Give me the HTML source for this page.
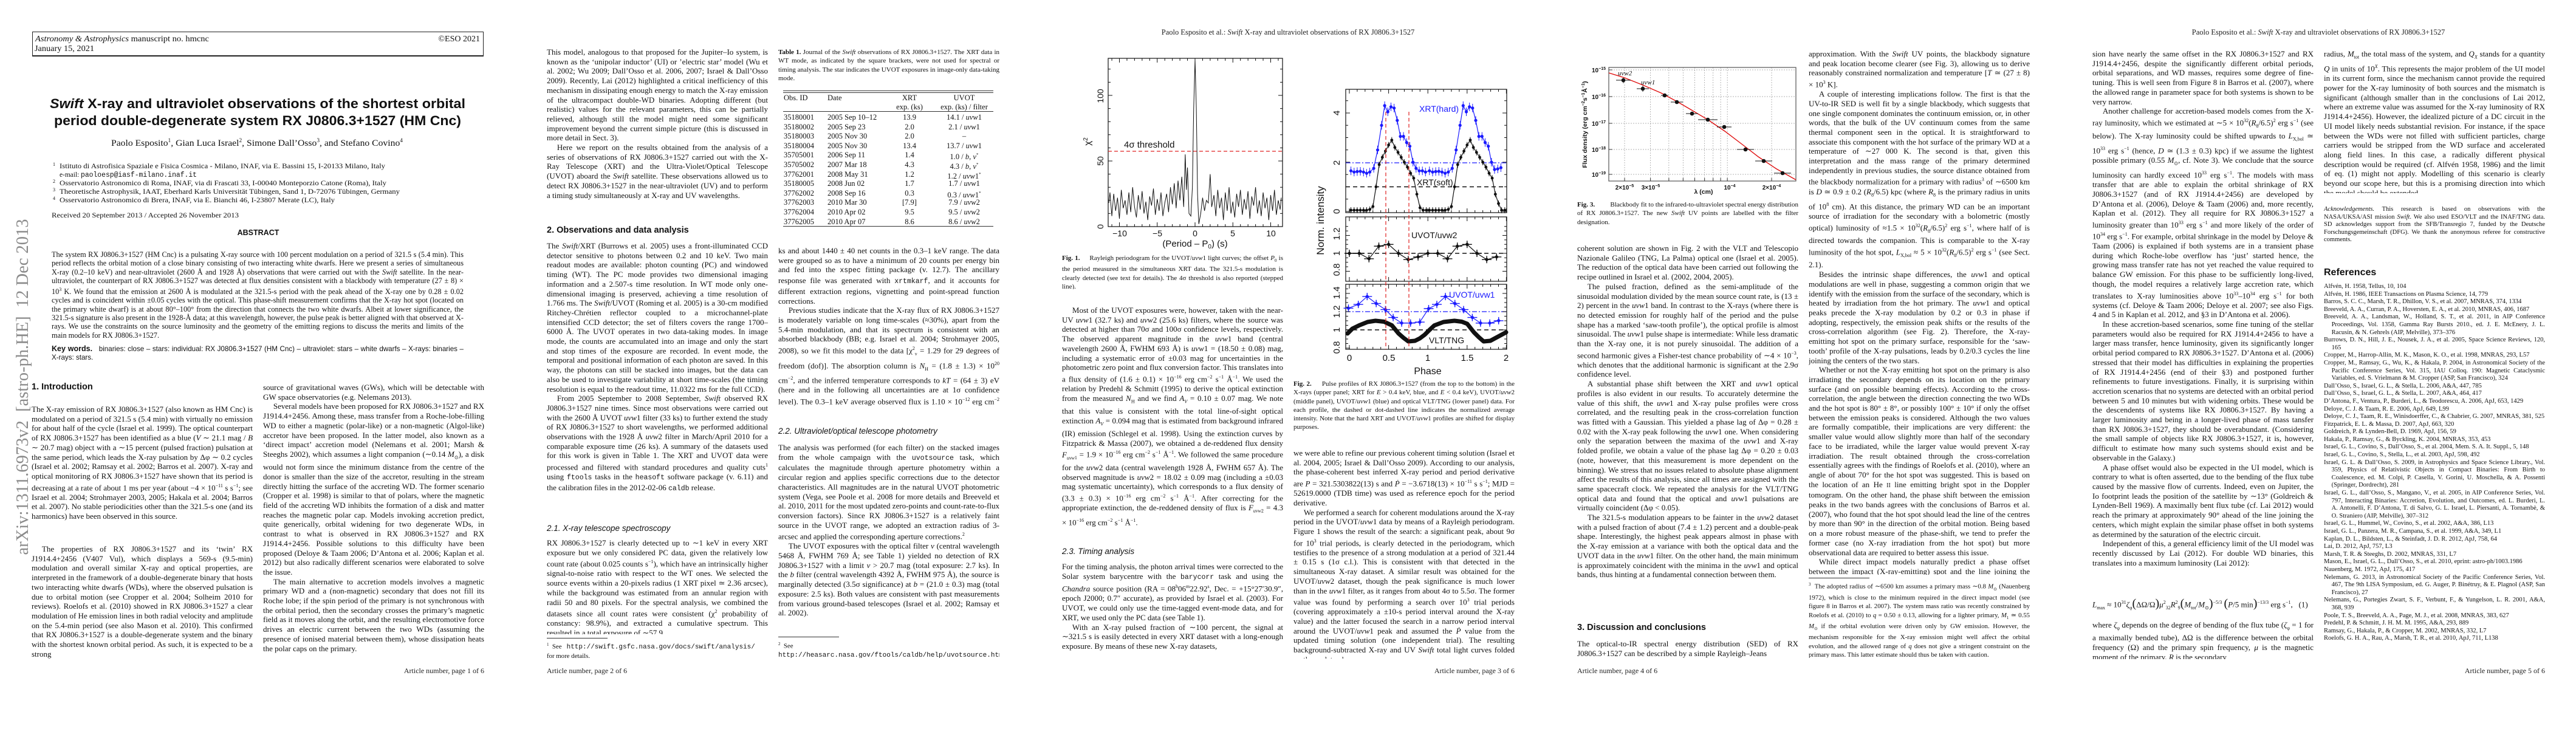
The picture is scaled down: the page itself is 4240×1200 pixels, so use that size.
<!DOCTYPE html>
<html><head><meta charset="utf-8">
<style>
html,body{margin:0;padding:0;background:#fff;}
body{width:4240px;height:1200px;position:relative;overflow:hidden;}
.pg{position:absolute;top:0;width:848px;height:1200px;overflow:hidden;}
.t{position:absolute;font-family:"Liberation Serif",serif;font-size:13px;line-height:15.7px;text-align:justify;color:#111;overflow:hidden;width:364px;}
.t p{margin:0;text-indent:1.3em;}
.t p.ni{text-indent:0;}
.L{left:52px;}.R{left:433px;}
.h{position:absolute;font-family:"Liberation Sans",sans-serif;font-weight:bold;font-size:14.5px;color:#111;white-space:nowrap;}
.sh{position:absolute;font-family:"Liberation Sans",sans-serif;font-style:italic;font-size:13.5px;color:#111;white-space:nowrap;}
.cap{position:absolute;font-family:"Liberation Serif",serif;font-size:11px;line-height:14.3px;text-align:justify;color:#111;overflow:hidden;width:364px;}
.foot{position:absolute;top:1097px;font-family:"Liberation Serif",serif;font-size:12px;color:#222;width:364px;}
.hdr{position:absolute;top:46px;left:0;width:848px;text-align:center;font-family:"Liberation Serif",serif;font-size:12.5px;color:#222;}
.fn{position:absolute;font-family:"Liberation Serif",serif;font-size:10.8px;line-height:14.25px;text-align:justify;color:#111;overflow:hidden;width:364px;}
.rule{position:absolute;height:0;border-top:1px solid #333;}
svg{position:absolute;left:0;top:0;}
.mono{font-family:"Liberation Mono",monospace;font-size:11.5px;}
i{font-style:italic;}
table{border-collapse:collapse;}
</style></head><body>

<!-- ================= PAGE 1 ================= -->
<div class="pg" style="left:0">
<div style="position:absolute;left:53px;top:52px;width:741px;height:38px;border:1px solid #222;border-bottom:2px solid #222;"></div>
<svg width="848" height="1200">
<g font-family="Liberation Serif, serif" fill="#111">
<text x="58" y="68" font-size="14" textLength="286" lengthAdjust="spacingAndGlyphs"><tspan font-style="italic">Astronomy &amp; Astrophysics</tspan> manuscript no. hmcnc</text>
<text x="57" y="84" font-size="14" textLength="98" lengthAdjust="spacingAndGlyphs">January 15, 2021</text>
<text x="790" y="68" font-size="14" text-anchor="end">©ESO 2021</text>
</g>
<g font-family="Liberation Sans, sans-serif" font-weight="bold" fill="#111" font-size="22">
<text x="82" y="178" textLength="684" lengthAdjust="spacingAndGlyphs"><tspan font-style="italic">Swift</tspan> X-ray and ultraviolet observations of the shortest orbital</text>
<text x="89" y="206" textLength="670" lengthAdjust="spacingAndGlyphs">period double-degenerate system RX J0806.3+1527 (HM Cnc)</text>
</g>
<g font-family="Liberation Serif, serif" fill="#111">
<text x="183" y="240" font-size="15" textLength="480" lengthAdjust="spacingAndGlyphs">Paolo Esposito<tspan font-size="9" dy="-6">1</tspan><tspan dy="6">, Gian Luca Israel</tspan><tspan font-size="9" dy="-6">2</tspan><tspan dy="6">, Simone Dall’Osso</tspan><tspan font-size="9" dy="-6">3</tspan><tspan dy="6">, and Stefano Covino</tspan><tspan font-size="9" dy="-6">4</tspan></text>
<g font-size="11.5">
<text x="87" y="273" font-size="8">1</text>
<text x="98" y="277" textLength="536" lengthAdjust="spacingAndGlyphs">Istituto di Astrofisica Spaziale e Fisica Cosmica - Milano, INAF, via E. Bassini 15, I-20133 Milano, Italy</text>
<text x="98" y="291" textLength="226" lengthAdjust="spacingAndGlyphs">e-mail: <tspan font-family="Liberation Mono, monospace">paoloesp@iasf-milano.inaf.it</tspan></text>
<text x="87" y="301" font-size="8">2</text>
<text x="98" y="305" textLength="538" lengthAdjust="spacingAndGlyphs">Osservatorio Astronomico di Roma, INAF, via di Frascati 33, I-00040 Monteporzio Catone (Roma), Italy</text>
<text x="87" y="315" font-size="8">3</text>
<text x="98" y="319" textLength="560" lengthAdjust="spacingAndGlyphs">Theoretische Astrophysik, IAAT, Eberhard Karls Universität Tübingen, Sand 1, D-72076 Tübingen, Germany</text>
<text x="87" y="329" font-size="8">4</text>
<text x="98" y="333" textLength="453" lengthAdjust="spacingAndGlyphs">Osservatorio Astronomico di Brera, INAF, via E. Bianchi 46, I-23807 Merate (LC), Italy</text>
<text x="85" y="358" textLength="308" lengthAdjust="spacingAndGlyphs">Received 20 September 2013 / Accepted 26 November 2013</text>
</g>
</g>
<text x="425" y="387" font-family="Liberation Sans, sans-serif" font-weight="bold" font-size="12.5" text-anchor="middle" fill="#111">ABSTRACT</text>
</svg>
<div style="position:absolute;left:-282px;top:620px;width:640px;height:34px;transform:rotate(-90deg);font-family:'Liberation Serif',serif;font-size:28.5px;line-height:34px;color:#8a8a8a;white-space:nowrap;text-align:center;">arXiv:1311.6973v2&nbsp; [astro-ph.HE]&nbsp; 12 Dec 2013</div>
<div class="t" style="left:85px;top:412px;width:678px;height:146px;font-size:12.3px;line-height:14.4px;">The system RX J0806.3+1527 (HM Cnc) is a pulsating X-ray source with 100 percent modulation on a period of 321.5 s (5.4 min). This period reflects the orbital motion of a close binary consisting of two interacting white dwarfs. Here we present a series of simultaneous X-ray (0.2–10 keV) and near-ultraviolet (2600 Å and 1928 Å) observations that were carried out with the <i>Swift</i> satellite. In the near-ultraviolet, the counterpart of RX J0806.3+1527 was detected at flux densities consistent with a blackbody with temperature (27 ± 8) × 10<sup style="font-size:8px">3</sup> K. We found that the emission at 2600 Å is modulated at the 321.5-s period with the peak ahead of the X-ray one by 0.28 ± 0.02 cycles and is coincident within ±0.05 cycles with the optical. This phase-shift measurement confirms that the X-ray hot spot (located on the primary white dwarf) is at about 80°–100° from the direction that connects the two white dwarfs. Albeit at lower significance, the 321.5-s signature is also present in the 1928-Å data; at this wavelength, however, the pulse peak is better aligned with that observed at X-rays. We use the constraints on the source luminosity and the geometry of the emitting regions to discuss the merits and limits of the main models for RX J0806.3+1527.</div>
<div class="t" style="left:85px;top:567px;width:678px;height:30px;font-family:'Liberation Sans',sans-serif;font-size:11.6px;line-height:14px;"><b style="font-size:12.5px">Key words.</b>&nbsp;&nbsp; binaries: close – stars: individual: RX J0806.3+1527 (HM Cnc) – ultraviolet: stars – white dwarfs – X-rays: binaries – X-rays: stars.</div>
<div class="h" style="left:52px;top:629px;">1. Introduction</div>
<div class="t L" style="top:666px;height:220px;"><p class="ni">The X-ray emission of RX J0806.3+1527 (also known as HM Cnc) is modulated on a period of 321.5 s (5.4 min) with virtually no emission for about half of the cycle (Israel et al. 1999). The optical counterpart of RX J0806.3+1527 has been identified as a blue (<i>V</i> ∼ 21.1 mag / <i>B</i> ∼ 20.7 mag) object with a ∼15 percent (pulsed fraction) pulsation at the same period, which leads the X-ray pulsation by Δφ ∼ 0.2 cycles (Israel et al. 2002; Ramsay et al. 2002; Barros et al. 2007). X-ray and optical monitoring of RX J0806.3+1527 have shown that its period is decreasing at a rate of about 1 ms per year (about −4 × 10<sup style="font-size:8px">−11</sup> s s<sup style="font-size:8px">−1</sup>; see Israel et al. 2004; Strohmayer 2003, 2005; Hakala et al. 2004; Barros et al. 2007). No stable periodicities other than the 321.5-s one (and its harmonics) have been observed in this source.</p></div>
<div class="t L" style="top:896px;height:189px;"><p>The properties of RX J0806.3+1527 and its ‘twin’ RX J1914.4+2456 (V407 Vul), which displays a 569-s (9.5-min) modulation and overall similar X-ray and optical properties, are interpreted in the framework of a double-degenerate binary that hosts two interacting white dwarfs (WDs), where the observed pulsation is due to orbital motion (see Cropper et al. 2004; Solheim 2010 for reviews). Roelofs et al. (2010) showed in RX J0806.3+1527 a clear modulation of He emission lines in both radial velocity and amplitude on the 5.4-min period (see also Mason et al. 2010). This confirmed that RX J0806.3+1527 is a double-degenerate system and the binary with the shortest known orbital period. As such, it is expected to be a strong</p></div>
<div class="t R" style="top:630px;height:456px;"><p class="ni">source of gravitational waves (GWs), which will be detectable with GW space observatories (e.g. Nelemans 2013).</p><p>Several models have been proposed for RX J0806.3+1527 and RX J1914.4+2456. Among these, mass transfer from a Roche-lobe-filling WD to either a magnetic (polar-like) or a non-magnetic (Algol-like) accretor have been proposed. In the latter model, also known as a ‘direct impact’ accretion model (Nelemans et al. 2001; Marsh &amp; Steeghs 2002), which assumes a light companion (∼0.14 <i>M</i><sub style="font-size:8px">⊙</sub>), a disk would not form since the minimum distance from the centre of the donor is smaller than the size of the accretor, resulting in the stream directly hitting the surface of the accreting WD. The former scenario (Cropper et al. 1998) is similar to that of polars, where the magnetic field of the accreting WD inhibits the formation of a disk and matter reaches the magnetic polar cap. Models invoking accretion predict, quite generically, orbital widening for two degenerate WDs, in contrast to what is observed in RX J0806.3+1527 and RX J1914.4+2456. Possible solutions to this difficulty have been proposed (Deloye &amp; Taam 2006; D’Antona et al. 2006; Kaplan et al. 2012) but also radically different scenarios were elaborated to solve the issue.</p><p>The main alternative to accretion models involves a magnetic primary WD and a (non-magnetic) secondary that does not fill its Roche lobe; if the spin period of the primary is not synchronous with the orbital period, then the secondary crosses the primary’s magnetic field as it moves along the orbit, and the resulting electromotive force drives an electric current between the two WDs (assuming the presence of ionised material between them), whose dissipation heats the polar caps on the primary.</p></div>
<div class="foot" style="left:433px;text-align:right;">Article number, page 1 of 6</div>
</div>

<!-- ================= PAGE 2 ================= -->
<div class="pg" style="left:848px">
<div class="t L" style="top:78px;height:268px;"><p class="ni">This model, analogous to that proposed for the Jupiter–Io system, is known as the ‘unipolar inductor’ (UI) or ’electric star’ model (Wu et al. 2002; Wu 2009; Dall’Osso et al. 2006, 2007; Israel &amp; Dall’Osso 2009). Recently, Lai (2012) highlighted a critical inefficiency of this mechanism in dissipating enough energy to match the X-ray emission of the ultracompact double-WD binaries. Adopting different (but realistic) values for the relevant parameters, this can be partially relieved, although still the model might need some significant improvement beyond the current simple picture (this is discussed in more detail in Sect. 3).</p><p>Here we report on the results obtained from the analysis of a series of observations of RX J0806.3+1527 carried out with the X-Ray Telescope (XRT) and the Ultra-Violet/Optical Telescope (UVOT) aboard the <i>Swift</i> satellite. These observations allowed us to detect RX J0806.3+1527 in the near-ultraviolet (UV) and to perform a timing study simultaneously at X-ray and UV wavelengths.</p></div>
<div class="h" style="left:52px;top:371px;">2. Observations and data analysis</div>
<div class="t L" style="top:397px;height:440px;"><p class="ni">The <i>Swift</i>/XRT (Burrows et al. 2005) uses a front-illuminated CCD detector sensitive to photons between 0.2 and 10 keV. Two main readout modes are available: photon counting (PC) and windowed timing (WT). The PC mode provides two dimensional imaging information and a 2.507-s time resolution. In WT mode only one-dimensional imaging is preserved, achieving a time resolution of 1.766 ms. The <i>Swift</i>/UVOT (Roming et al. 2005) is a 30-cm modified Ritchey-Chrétien reflector coupled to a microchannel-plate intensified CCD detector; the set of filters covers the range 1700–6000 Å. The UVOT operates in two data-taking modes. In image mode, the counts are accumulated into an image and only the start and stop times of the exposure are recorded. In event mode, the temporal and positional information of each photon are saved. In this way, the photons can still be stacked into images, but the data can also be used to investigate variability at short time-scales (the timing resolution is equal to the readout time, 11.0322 ms for the full CCD).</p><p>From 2005 September to 2008 September, <i>Swift</i> observed RX J0806.3+1527 nine times. Since most observations were carried out with the 2600 Å UVOT <i>uvw</i>1 filter (33 ks) to further extend the study of RX J0806.3+1527 to short wavelengths, we performed additional observations with the 1928 Å <i>uvw</i>2 filter in March/April 2010 for a comparable exposure time (26 ks). A summary of the datasets used for this work is given in Table 1. The XRT and UVOT data were processed and filtered with standard procedures and quality cuts<sup style="font-size:8px">1</sup> using <span class="mono">ftools</span> tasks in the <span class="mono">heasoft</span> software package (v. 6.11) and the calibration files in the 2012-02-06 <span class="mono">caldb</span> release.</p></div>
<div class="sh" style="left:52px;top:862px;">2.1. X-ray telescope spectroscopy</div>
<div class="t L" style="top:886px;height:158px;"><p class="ni">RX J0806.3+1527 is clearly detected up to ∼1 keV in every XRT exposure but we only considered PC data, given the relatively low count rate (about 0.025 counts s<sup style="font-size:8px">−1</sup>), which have an intrinsically higher signal-to-noise ratio with respect to the WT ones. We selected the source events within a 20-pixels radius (1 XRT pixel ≃ 2.36 arcsec), while the background was estimated from an annular region with radii 50 and 80 pixels. For the spectral analysis, we combined the datasets since all count rates were consistent (χ<sup style="font-size:8px">2</sup> probability of constancy: 98.9%), and extracted a cumulative spectrum. This resulted in a total exposure of ∼57.9</p></div>
<div class="rule" style="left:52px;top:1050px;width:100px;"></div>
<div class="fn L" style="top:1054px;height:30px;"><sup style="font-size:7px">1</sup>&nbsp; See &nbsp;&nbsp;<span class="mono" style="font-size:11px">http://swift.gsfc.nasa.gov/docs/swift/analysis/</span><br>for more details.</div>
<div class="cap R" style="top:79px;height:58px;"><b>Table 1.</b> Journal of the <i>Swift</i> observations of RX J0806.3+1527. The XRT data in WT mode, as indicated by the square brackets, were not used for spectral or timing analysis. The star indicates the UVOT exposures in image-only data-taking mode.</div>
<div class="rule" style="left:441px;top:149px;width:346px;"></div>
<div class="rule" style="left:441px;top:152px;width:346px;"></div>
<div class="rule" style="left:441px;top:183px;width:346px;"></div>
<div class="rule" style="left:441px;top:372px;width:346px;"></div>
<div style="position:absolute;left:441px;top:154px;width:346px;font-family:'Liberation Serif',serif;font-size:12.5px;line-height:14.5px;color:#111;">
<div style="position:relative;height:29px;">
<span style="position:absolute;left:1px;top:0">Obs. ID</span><span style="position:absolute;left:73px;top:0">Date</span>
<span style="position:absolute;left:172px;width:72px;text-align:center;top:0">XRT<br>exp. (ks)</span>
<span style="position:absolute;left:250px;width:96px;text-align:center;top:0">UVOT<br>exp. (ks) / filter</span></div>
<div style="height:3px"></div>
<div id="tbl" style="position:relative;"></div>
</div>
<div class="t R" style="top:405px;height:268px;"><p class="ni">ks and about 1440 ± 40 net counts in the 0.3–1 keV range. The data were grouped so as to have a minimum of 20 counts per energy bin and fed into the <span class="mono">xspec</span> fitting package (v. 12.7). The ancillary response file was generated with <span class="mono">xrtmkarf</span>, and it accounts for different extraction regions, vignetting and point-spread function corrections.</p><p>Previous studies indicate that the X-ray flux of RX J0806.3+1527 is moderately variable on long time-scales (≈30%), apart from the 5.4-min modulation, and that its spectrum is consistent with an absorbed blackbody (BB; e.g. Israel et al. 2004; Strohmayer 2005, 2008), so we fit this model to the data [χ<sup style="font-size:8px">2</sup><sub style="font-size:8px">ν</sub> = 1.29 for 29 degrees of freedom (dof)]. The absorption column is <i>N</i><sub style="font-size:8px">H</sub> = (1.8 ± 1.3) × 10<sup style="font-size:8px">20</sup> cm<sup style="font-size:8px">−2</sup>, and the inferred temperature corresponds to <i>kT</i> = (64 ± 3) eV (here and in the following all uncertainties are at 1σ confidence level). The 0.3–1 keV average observed flux is 1.10 × 10<sup style="font-size:8px">−12</sup> erg cm<sup style="font-size:8px">−2</sup> s<sup style="font-size:8px">−1</sup>. The corresponding unabsorbed flux is 1.5 × 10<sup style="font-size:8px">−12</sup> erg cm<sup style="font-size:8px">−2</sup> s<sup style="font-size:8px">−1</sup>.</p></div>
<div class="sh" style="left:433px;top:702px;">2.2. Ultraviolet/optical telescope photometry</div>
<div class="t R" style="top:729px;height:300px;"><p class="ni">The analysis was performed (for each filter) on the stacked images from the whole campaign with the <span class="mono">uvotsource</span> task, which calculates the magnitude through aperture photometry within a circular region and applies specific corrections due to the detector characteristics. All magnitudes are in the natural UVOT photometric system (Vega, see Poole et al. 2008 for more details and Breeveld et al. 2010, 2011 for the most updated zero-points and count-rate-to-flux conversion factors). Since RX J0806.3+1527 is a relatively faint source in the UVOT range, we adopted an extraction radius of 3-arcsec and applied the corresponding aperture corrections.<sup style="font-size:8px">2</sup></p><p>The UVOT exposures with the optical filter <i>v</i> (central wavelength 5468 Å, FWHM 769 Å; see Table 1) yielded no detection of RX J0806.3+1527 with a limit <i>v</i> &gt; 20.7 mag (total exposure: 2.7 ks). In the <i>b</i> filter (central wavelength 4392 Å, FWHM 975 Å), the source is marginally detected (3.5σ significance) at <i>b</i> = (21.0 ± 0.3) mag (total exposure: 2.5 ks). Both values are consistent with past measurements from various ground-based telescopes (Israel et al. 2002; Ramsay et al. 2002).</p></div>
<div class="rule" style="left:433px;top:1048px;width:100px;"></div>
<div class="fn R" style="top:1053px;height:30px;text-align:left;"><sup style="font-size:7px">2</sup>&nbsp; See<br><span class="mono" style="font-size:11px">http://heasarc.nasa.gov/ftools/caldb/help/uvotsource.html</span>.</div>
<div class="foot" style="left:52px;">Article number, page 2 of 6</div>
</div>

<!-- ================= PAGE 3 ================= -->
<div class="pg" style="left:1696px">
<div class="hdr">Paolo Esposito et al.: <i>Swift</i> X-ray and ultraviolet observations of RX J0806.3+1527</div>
<svg id="s3" width="848" height="1200" font-family="Liberation Sans, sans-serif">
<!-- Fig 1 -->
<rect x="128" y="96" width="287" height="277" fill="none" stroke="#111" stroke-width="1.2"/>
<line x1="128" y1="249" x2="415" y2="249" stroke="#e02020" stroke-width="1.2" stroke-dasharray="6,4"/>
<polyline transform="matrix(12.45 0 0 -2.16 271 373)" vector-effect="non-scaling-stroke" fill="none" stroke="#111" stroke-width="1" points="-11.4,18 -11.25,26 -11,8 -10.75,25 -10.5,12 -10.25,22 -10,6 -9.75,28 -9.5,14 -9.25,20 -9,9 -8.75,26 -8.5,11 -8.25,30 -8,15 -7.75,7 -7.5,24 -7.25,13 -7,27 -6.75,10 -6.5,19 -6.25,5 -6,23 -5.75,16 -5.5,29 -5.25,9 -5,21 -4.75,12 -4.5,26 -4.25,8 -4,18 -3.75,25 -3.5,11 -3.25,30 -3,17 -2.75,33 -2.5,14 -2.25,35 -2,20 -1.75,38 -1.5,15 -1.3,55 -1.15,28 -1,45 -0.8,10 -0.55,8 -0.35,30 -0.18,90 0,127 0.17,90 0.33,25 0.5,2 0.75,10 1,22 1.25,12 1.5,20 1.75,18 2,40 2.2,15 2.5,24 2.75,8 3,28 3.25,14 3.5,22 3.75,5 4,26 4.25,12 4.5,30 4.75,10 5,19 5.25,7 5.5,25 5.75,15 6,28 6.25,9 6.5,21 6.75,13 7,27 7.25,6 7.5,23 7.75,16 8,30 8.25,10 8.5,20 8.75,8 9,26 9.25,14 9.5,22 9.75,5 10,24 10.25,12 10.5,28 10.75,9 11,20 11.25,13 11.4,22"/>
<g font-size="14" fill="#111" text-anchor="middle">
<text transform="translate(120,373) rotate(-90)">0</text>
<text transform="translate(120,265) rotate(-90)">50</text>
<text transform="translate(120,158) rotate(-90)">100</text>
<text x="147" y="389">−10</text><text x="209" y="389">−5</text><text x="271" y="389">0</text><text x="333" y="389">5</text><text x="396" y="389">10</text>
<text x="271" y="406" font-size="15">(Period – P<tspan font-size="10" dy="3">0</tspan><tspan dy="-3">) (s)</tspan></text>
<text transform="translate(99,233) rotate(-90)" font-size="15">χ<tspan font-size="10" dy="-5">2</tspan></text>
<text x="154" y="243" font-size="15" text-anchor="start">4σ threshold</text>
</g>
<!-- Fig 2 -->
<defs>
<marker id="mb" markerWidth="8" markerHeight="16" refX="4" refY="8" markerUnits="userSpaceOnUse"><path d="M4,1V15" stroke="#1a1aff" stroke-width="1"/><circle cx="4" cy="8" r="2.6" fill="#1a1aff"/></marker>
<marker id="mk" markerWidth="8" markerHeight="16" refX="4" refY="8" markerUnits="userSpaceOnUse"><path d="M4,3V13" stroke="#111" stroke-width="1"/><circle cx="4" cy="8" r="2.4" fill="#111"/></marker>
<marker id="xk" markerWidth="18" markerHeight="14" refX="9" refY="7" markerUnits="userSpaceOnUse"><path d="M1,7H17M9,1V13" stroke="#111" stroke-width="1.4"/><path d="M9,3.5L12.5,7L9,10.5L5.5,7Z" fill="#111"/></marker>
<marker id="xb" markerWidth="18" markerHeight="14" refX="9" refY="7" markerUnits="userSpaceOnUse"><path d="M1,7H17M9,1V13" stroke="#1a1aff" stroke-width="1.4"/><path d="M9,3.5L12.5,7L9,10.5L5.5,7Z" fill="#1a1aff"/></marker>
</defs>
<rect x="519" y="147" width="265" height="203" fill="none" stroke="#111" stroke-width="1.2"/>
<rect x="519" y="357" width="265" height="106" fill="none" stroke="#111" stroke-width="1.2"/>
<rect x="519" y="468" width="265" height="107" fill="none" stroke="#111" stroke-width="1.2"/>
<line x1="519" y1="268" x2="784" y2="268" stroke="#1a1aff" stroke-width="1.2" stroke-dasharray="8,3,2,3"/>
<line x1="519" y1="307.5" x2="784" y2="307.5" stroke="#111" stroke-width="1.5" stroke-dasharray="7,5"/>
<line x1="519" y1="417" x2="784" y2="417" stroke="#111" stroke-width="1.5" stroke-dasharray="7,5"/>
<line x1="519" y1="543" x2="784" y2="543" stroke="#111" stroke-width="1.5" stroke-dasharray="7,5"/>
<line x1="519" y1="513" x2="784" y2="513" stroke="#1a1aff" stroke-width="1.2" stroke-dasharray="8,3,2,3"/>
<polyline fill="none" stroke="#111" stroke-width="1.2" marker-start="url(#mk)" marker-mid="url(#mk)" marker-end="url(#mk)" points="527.6,346 532.8,346 537.9,346 543.1,346 548.3,346 553.4,346 558.6,344.8 563.8,339.9 568.9,307.5 574.1,271 579.3,258.9 584.4,248.8 589.6,238.7 594.8,230.6 599.9,242.7 605.1,250.8 610.3,258.9 615.4,267 620.6,275.1 625.8,285.2 630.9,293.3 636.1,319.7 641.3,341.9 646.4,346 651.6,346 656.8,346 662,346 667.1,346 672.3,346 677.5,346 682.6,346 687.8,344.8 693,339.9 698.1,307.5 703.3,271 708.5,258.9 713.6,248.8 718.8,238.7 724,230.6 729.1,242.7 734.3,250.8 739.5,258.9 744.6,267 749.8,275.1 755,285.2 760.1,293.3 765.3,319.7 770.5,335 775.6,346 780.8,346"/>
<polyline fill="none" stroke="#1a1aff" stroke-width="1.2" marker-start="url(#mb)" marker-mid="url(#mb)" marker-end="url(#mb)" points="527.6,281.2 532.8,283.2 537.9,282.4 543.1,282 548.3,283.2 553.4,285.2 558.6,283.2 565.1,277.1 571.5,246.8 578,206.3 583.1,173.9 588.3,184 593.5,175.9 598.6,177.9 603.8,198.2 609,224.5 614.1,224.5 619.3,234.6 624.5,240.7 629.7,267 634.8,277.1 640,281.2 645.2,281.2 650.3,283.2 656.8,281.2 662,283.2 667.1,282.4 672.3,282 677.5,283.2 682.6,285.2 687.8,283.2 694.3,277.1 700.7,246.8 707.2,206.3 712.3,173.9 717.5,184 722.7,175.9 727.8,177.9 733,198.2 738.2,224.5 743.3,224.5 748.5,234.6 753.7,240.7 758.9,267 764,279 769.2,278 774.4,276"/>
<polyline fill="none" stroke="#111" stroke-width="1.2" marker-start="url(#xk)" marker-mid="url(#xk)" marker-end="url(#xk)" points="525,417 541.2,417 557.3,425.9 573.5,405.2 589.6,402.3 605.8,417 621.9,427.3 638.1,422.9 654.2,417 670.4,417 686.5,425.9 702.7,405.2 718.8,402.3 735,417 751.1,427.3 767.3,422.9"/>
<polyline fill="none" stroke="#1a1aff" stroke-width="1.2" marker-start="url(#xb)" marker-mid="url(#xb)" marker-end="url(#xb)" points="523.5,507.3 539.7,501.1 554.3,488.1 569.2,499.6 584.3,509.6 597.1,522.6 611.1,531.8 625.7,531.8 640.9,530.2 655.5,508 669,501.1 683.1,488.1 698.7,499.6 713,509.6 727.4,522.6 740.9,531.8 756.1,531.8 770.7,527.9"/>
<polyline fill="none" stroke="#111" stroke-width="7" stroke-linecap="round" stroke-linejoin="round" points="522,549 530,541 541,535.6 555,530 568,528 582,529.5 595,535.6 606,549 614,556 622,562 633,561 641,557 649,551 657,543 665,535.6 680,530 698,528 710,529.5 719,533 730,547 738,555 746,562 757,561 770,554 783,547"/>
<line x1="585" y1="184" x2="585" y2="575" stroke="#e02020" stroke-width="1.2" stroke-dasharray="6,4"/>
<line x1="623" y1="184" x2="623" y2="575" stroke="#e02020" stroke-width="1.2" stroke-dasharray="6,4"/>
<g font-size="15" fill="#111" text-anchor="middle">
<text x="640" y="184" fill="#1a1aff" text-anchor="start" font-size="14">XRT(hard)</text>
<text x="636" y="305" text-anchor="start" font-size="14">XRT(soft)</text>
<text x="627" y="392" text-anchor="start" font-size="14">UVOT/uvw2</text>
<text x="689" y="490" fill="#1a1aff" text-anchor="start" font-size="14">UVOT/uvw1</text>
<text x="656" y="565" text-anchor="start" font-size="14">VLT/TNG</text>
<text transform="translate(509,348) rotate(-90)">0</text>
<text transform="translate(509,268) rotate(-90)">2</text>
<text transform="translate(509,186) rotate(-90)">4</text>
<text transform="translate(509,444) rotate(-90)">0.8</text>
<text transform="translate(509,417) rotate(-90)">1</text>
<text transform="translate(509,385) rotate(-90)">1.2</text>
<text transform="translate(509,572) rotate(-90)">0.8</text>
<text transform="translate(509,543) rotate(-90)">1</text>
<text transform="translate(509,513) rotate(-90)">1.2</text>
<text transform="translate(509,482) rotate(-90)">1.4</text>
<text transform="translate(483,363) rotate(-90)" font-size="17">Norm. intensity</text>
<text x="525" y="594">0</text><text x="590" y="594">0.5</text><text x="654" y="594">1</text><text x="719" y="594">1.5</text><text x="783" y="594">2</text>
<text x="654" y="616" font-size="16">Phase</text>
</g>
</svg>
<div class="cap L" style="top:418px;height:58px;"><b>Fig. 1.</b>&nbsp;&nbsp;&nbsp;&nbsp; Rayleigh periodogram for the UVOT/<i>uvw</i>1 light curves; the offset <i>P</i><sub style="font-size:7px">0</sub> is the period measured in the simultaneous XRT data. The 321.5-s modulation is clearly detected (see text for details). The 4σ threshold is also reported (stepped line).</div>
<div class="t L" style="top:503px;height:378px;"><p>Most of the UVOT exposures were, however, taken with the near-UV <i>uvw</i>1 (32.7 ks) and <i>uvw</i>2 (25.6 ks) filters, where the source was detected at higher than 70σ and 100σ confidence levels, respectively. The observed apparent magnitude in the <i>uvw</i>1 band (central wavelength 2600 Å, FWHM 693 Å) is <i>uvw</i>1 = (18.50 ± 0.08) mag, including a systematic error of ±0.03 mag for uncertainties in the photometric zero point and flux conversion factor. This translates into a flux density of (1.6 ± 0.1) × 10<sup style="font-size:8px">−16</sup> erg cm<sup style="font-size:8px">−2</sup> s<sup style="font-size:8px">−1</sup> Å<sup style="font-size:8px">−1</sup>. We used the relation by Predehl &amp; Schmitt (1995) to derive the optical extinction from the measured <i>N</i><sub style="font-size:8px">H</sub> and we find <i>A<sub style="font-size:8px">V</sub></i> = 0.10 ± 0.07 mag. We note that this value is consistent with the total line-of-sight optical extinction <i>A<sub style="font-size:8px">V</sub></i> = 0.094 mag that is estimated from background infrared (IR) emission (Schlegel et al. 1998). Using the extinction curves by Fitzpatrick &amp; Massa (2007), we obtained a de-reddened flux density <i>F<sub style="font-size:8px">uvw</sub></i><sub style="font-size:8px">1</sub> = 1.9 × 10<sup style="font-size:8px">−16</sup> erg cm<sup style="font-size:8px">−2</sup> s<sup style="font-size:8px">−1</sup> Å<sup style="font-size:8px">−1</sup>. We followed the same procedure for the <i>uvw</i>2 data (central wavelength 1928 Å, FWHM 657 Å). The observed magnitude is <i>uvw</i>2 = 18.02 ± 0.09 mag (including a ±0.03 mag systematic uncertainty), which corresponds to a flux density of (3.3 ± 0.3) × 10<sup style="font-size:8px">−16</sup> erg cm<sup style="font-size:8px">−2</sup> s<sup style="font-size:8px">−1</sup> Å<sup style="font-size:8px">−1</sup>. After correcting for the appropriate extinction, the de-reddened density of flux is <i>F<sub style="font-size:8px">uvw</sub></i><sub style="font-size:8px">2</sub> = 4.3 × 10<sup style="font-size:8px">−16</sup> erg cm<sup style="font-size:8px">−2</sup> s<sup style="font-size:8px">−1</sup> Å<sup style="font-size:8px">−1</sup>.</p></div>
<div class="sh" style="left:52px;top:900px;">2.3. Timing analysis</div>
<div class="t L" style="top:925px;height:158px;"><p class="ni">For the timing analysis, the photon arrival times were corrected to the Solar system barycentre with the <span class="mono">barycorr</span> task and using the <i>Chandra</i> source position (RA = 08<sup style="font-size:8px">h</sup>06<sup style="font-size:8px">m</sup>22.92<sup style="font-size:8px">s</sup>, Dec. = +15°27′30.9″, epoch J2000; 0.7″ accurate), as provided by Israel et al. (2003). For UVOT, we could only use the time-tagged event-mode data, and for XRT, we used only the PC data (see Table 1).</p><p>With an X-ray pulsed fraction of ∼100 percent, the signal at ∼321.5 s is easily detected in every XRT dataset with a long-enough exposure. By means of these new X-ray datasets,</p></div>
<div class="cap R" style="top:625px;height:87px;"><b>Fig. 2.</b>&nbsp;&nbsp;&nbsp;&nbsp; Pulse profiles of RX J0806.3+1527 (from the top to the bottom) in the X-rays (upper panel; XRT for <i>E</i> &gt; 0.4 keV, blue, and <i>E</i> &lt; 0.4 keV), UVOT/<i>uvw</i>2 (middle panel), UVOT/<i>uvw</i>1 (blue) and optical VLT/TNG (lower panel) data. For each profile, the dashed or dot-dashed line indicates the normalized average intensity. Note that the hard XRT and UVOT/<i>uvw</i>1 profiles are shifted for display purposes.</div>
<div class="t R" style="top:738px;height:346px;"><p class="ni">we were able to refine our previous coherent timing solution (Israel et al. 2004, 2005; Israel &amp; Dall’Osso 2009). According to our analysis, the phase-coherent best inferred X-ray period and period derivative are <i>P</i> = 321.5303822(13) s and <i>Ṗ</i> = −3.6718(13) × 10<sup style="font-size:8px">−11</sup> s s<sup style="font-size:8px">−1</sup>; MJD = 52619.0000 (TDB time) was used as reference epoch for the period derivative.</p><p>We performed a search for coherent modulations around the X-ray period in the UVOT/<i>uvw</i>1 data by means of a Rayleigh periodogram. Figure 1 shows the result of the search: a significant peak, about 9σ for 10<sup style="font-size:8px">3</sup> trial periods, is clearly detected in the periodogram, which testifies to the presence of a strong modulation at a period of 321.44 ± 0.15 s (1σ c.l.). This is consistent with that detected in the simultaneous X-ray dataset. A similar result was obtained for the UVOT/<i>uvw</i>2 dataset, though the peak significance is much lower than in the <i>uvw</i>1 filter, as it ranges from about 4σ to 5.5σ. The former value was found by performing a search over 10<sup style="font-size:8px">3</sup> trial periods (covering approximately a ±10-s period interval around the X-ray value) and the latter focused the search in a narrow period interval around the UVOT/<i>uvw</i>1 peak and assumed the <i>Ṗ</i> value from the updated timing solution (one independent trial). The resulting background-subtracted X-ray and UV <i>Swift</i> total light curves folded on the update phase-</p></div>
<div class="foot" style="left:433px;text-align:right;">Article number, page 3 of 6</div>
</div>

<!-- ================= PAGE 4 ================= -->
<div class="pg" style="left:2544px">
<svg id="s4" width="848" height="1200" font-family="Liberation Sans, sans-serif">
<g id="f3grid" stroke="#999" stroke-width="0.7" stroke-dasharray="2,2"></g>
<rect x="104" y="111" width="308" height="187" fill="none" stroke="#555" stroke-width="1.2"/>
<polyline fill="none" stroke="#e01010" stroke-width="1.4" points="104,120 130,128 160,140 190,153 216,167 240,181 267,197 295,216 324,238 350,258 380,278 412,296"/>
<g stroke="#111" stroke-width="0.9">
<path d="M116,132H140M150,146H170M190,157H202M206,168H226M231,187H251M251,197H283M282,209H306M315,246H343M345,265H373M376,285H404"/>
<path d="M128,128V137M160,141V151"/>
</g>
<g fill="#111">
<circle cx="128" cy="132" r="3.3"/><circle cx="160" cy="146" r="3.3"/><circle cx="196" cy="157" r="3.3"/><circle cx="216" cy="168" r="3.3"/><circle cx="241" cy="187" r="3.3"/><circle cx="267" cy="197" r="3.3"/><circle cx="294" cy="209" r="3.3"/><circle cx="329" cy="246" r="3.3"/><circle cx="359" cy="265" r="3.3"/><circle cx="390" cy="285" r="3.3"/>
</g>
<g font-family="Liberation Serif, serif" font-style="italic" font-size="11" fill="#111">
<text x="119" y="124">uvw2</text><text x="157" y="139">uvw1</text>
</g>
<g font-size="10" font-weight="bold" fill="#111" text-anchor="end">
<text x="99" y="119">10<tspan font-size="7" dy="-4">−15</tspan></text>
<text x="99" y="163">10<tspan font-size="7" dy="-4">−16</tspan></text>
<text x="99" y="207">10<tspan font-size="7" dy="-4">−17</tspan></text>
<text x="99" y="250">10<tspan font-size="7" dy="-4">−18</tspan></text>
<text x="99" y="291">10<tspan font-size="7" dy="-4">−19</tspan></text>
</g>
<g font-size="10" font-weight="bold" fill="#111" text-anchor="middle">
<text x="130" y="312">2×10<tspan font-size="7" dy="-4">−5</tspan></text>
<text x="173" y="312">3×10<tspan font-size="7" dy="-4">−5</tspan></text>
<text x="303" y="312">10<tspan font-size="7" dy="-4">−4</tspan></text>
<text x="372" y="312">2×10<tspan font-size="7" dy="-4">−4</tspan></text>
<text x="260" y="319" font-size="10.5">λ (cm)</text>
<text transform="translate(68,205) rotate(-90)" font-size="10.5">Flux density (erg cm<tspan font-size="7" dy="-4">−2</tspan><tspan dy="4">s</tspan><tspan font-size="7" dy="-4">−1</tspan><tspan dy="4">Å</tspan><tspan font-size="7" dy="-4">−1</tspan><tspan dy="4">)</tspan></text>
</g>
</svg>
<div class="cap L" style="top:330px;height:44px;"><b>Fig. 3.</b>&nbsp;&nbsp;&nbsp;&nbsp;&nbsp;&nbsp;&nbsp;&nbsp; Blackbody fit to the infrared-to-ultraviolet spectral energy distribution of RX J0806.3+1527. The new <i>Swift</i> UV points are labelled with the filter designation.</div>
<div class="t L" style="top:401px;height:598px;"><p class="ni">coherent solution are shown in Fig. 2 with the VLT and Telescopio Nazionale Galileo (TNG, La Palma) optical one (Israel et al. 2005). The reduction of the optical data have been carried out following the recipe outlined in Israel et al. (2002, 2004, 2005).</p><p>The pulsed fraction, defined as the semi-amplitude of the sinusoidal modulation divided by the mean source count rate, is (13 ± 2) percent in the <i>uvw</i>1 band. In contrast to the X-rays (where there is no detected emission for roughly half of the period and the pulse shape has a marked ‘saw-tooth profile’), the optical profile is almost sinusoidal. The <i>uvw</i>1 pulse shape is intermediate: While less dramatic than the X-ray one, it is not purely sinusoidal. The addition of a second harmonic gives a Fisher-test chance probability of ∼4 × 10<sup style="font-size:8px">−3</sup>, which denotes that the additional harmonic is significant at the 2.9σ confidence level.</p><p>A substantial phase shift between the XRT and <i>uvw</i>1 optical profiles is also evident in our results. To accurately determine the value of this shift, the <i>uvw</i>1 and X-ray pulse profiles were cross correlated, and the resulting peak in the cross-correlation function was fitted with a Gaussian. This yielded a phase lag of Δφ = 0.28 ± 0.02 with the X-ray peak following the <i>uvw</i>1 one. When considering only the separation between the maxima of the <i>uvw</i>1 and X-ray folded profile, we obtain a value of the phase lag Δφ = 0.20 ± 0.03 (note, however, that this measurement is more dependent on the binning). We stress that no issues related to absolute phase alignment affect the results of this analysis, since all times are assigned with the same spacecraft clock. We repeated the analysis for the VLT/TNG optical data and found that the optical and <i>uvw</i>1 pulsations are virtually coincident (Δφ &lt; 0.05).</p><p>The 321.5-s modulation appears to be fainter in the <i>uvw</i>2 dataset with a pulsed fraction of about (7.4 ± 1.2) percent and a double-peak shape. Interestingly, the highest peak appears almost in phase with the X-ray emission at a variance with both the optical data and the UVOT data in the <i>uvw</i>1 filter. On the other hand, the main minimum is approximately coincident with the minima in the <i>uvw</i>1 and optical bands, thus hinting at a fundamental connection between them.</p></div>
<div class="h" style="left:52px;top:1025px;">3. Discussion and conclusions</div>
<div class="t L" style="top:1052px;height:32px;"><p class="ni">The optical-to-IR spectral energy distribution (SED) of RX J0806.3+1527 can be described by a simple Rayleigh–Jeans</p></div>
<div class="t R" style="top:81px;height:865px;"><p class="ni">approximation. With the <i>Swift</i> UV points, the blackbody signature and peak location become clearer (see Fig. 3), allowing us to derive reasonably constrained normalization and temperature [<i>T</i> ≃ (27 ± 8) × 10<sup style="font-size:8px">3</sup> K].</p><p>A couple of interesting implications follow. The first is that the UV-to-IR SED is well fit by a single blackbody, which suggests that one single component dominates the continuum emission, or, in other words, that the bulk of the UV continuum comes from the same thermal component seen in the optical. It is straightforward to associate this component with the hot surface of the primary WD at a temperature of ∼27 000 K. The second is that, given this interpretation and the mass range of the primary determined independently in previous studies, the source distance obtained from the blackbody normalization for a primary with radius<sup style="font-size:8px">3</sup> of ∼6500 km is <i>D</i> ≃ 0.9 ± 0.2 (<i>R</i><sub style="font-size:8px">8</sub>/6.5) kpc (where <i>R</i><sub style="font-size:8px">8</sub> is the primary radius in units of 10<sup style="font-size:8px">8</sup> cm). At this distance, the primary WD can be an important source of irradiation for the secondary with a bolometric (mostly optical) luminosity of ≈1.5 × 10<sup style="font-size:8px">32</sup>(<i>R</i><sub style="font-size:8px">8</sub>/6.5)<sup style="font-size:8px">2</sup> erg s<sup style="font-size:8px">−1</sup>, where half of is directed towards the companion. This is comparable to the X-ray luminosity of the hot spot, <i>L</i><sub style="font-size:8px">X,bol</sub> ≈ 5 × 10<sup style="font-size:8px">32</sup>(<i>R</i><sub style="font-size:8px">8</sub>/6.5)<sup style="font-size:8px">2</sup> erg s<sup style="font-size:8px">−1</sup> (see Sect. 2.1).</p><p>Besides the intrinsic shape differences, the <i>uvw</i>1 and optical modulations are well in phase, suggesting a common origin that we identify with the emission from the surface of the secondary, which is heated by irradiation from the hot primary. The <i>uvw</i>1 and optical peaks precede the X-ray modulation by 0.2 or 0.3 in phase if adopting, respectively, the emission peak shifts or the results of the cross-correlation algorithm (see Fig. 2). Therefore, the X-ray-emitting hot spot on the primary surface, responsible for the ‘saw-tooth’ profile of the X-ray pulsations, leads by 0.2/0.3 cycles the line joining the centers of the two stars.</p><p>Whether or not the X-ray emitting hot spot on the primary is also irradiating the secondary depends on its location on the primary surface (and on possible beaming effects). According to the cross-correlation, the angle between the direction connecting the two WDs and the hot spot is 80° ± 8°, or possibly 100° ± 10° if only the offset between the emission peaks is considered. Although the two values are formally compatible, their implications are very different: the smaller value would allow slightly more than half of the secondary face to be irradiated, while the larger value would prevent X-ray irradiation. The result obtained through the cross-correlation essentially agrees with the findings of Roelofs et al. (2010), where an angle of about 70° for the hot spot was suggested. This is based on the location of an He <span style="font-size:10px">II</span> line emitting bright spot in the Doppler tomogram. On the other hand, the phase shift between the emission peaks in the two bands agrees with the conclusions of Barros et al. (2007), who found that the hot spot should lead the line of the centres by more than 90° in the direction of the orbital motion. Being based on a more robust measure of the phase-shift, we tend to prefer the former case (no X-ray irradiation from the hot spot) but more observational data are required to better assess this issue.</p><p>While direct impact models naturally predict a phase offset between the impact (X-ray-emitting) spot and the line joining the centers, the observation that optical and X-ray emis-</p></div>
<div class="rule" style="left:433px;top:951px;width:100px;"></div>
<div class="fn R" style="top:955px;height:128px;"><sup style="font-size:7px">3</sup>&nbsp; The adopted radius of ∼6500 km assumes a primary mass ∼0.8 <i>M</i><sub style="font-size:7px">⊙</sub> (Nauenberg 1972), which is close to the minimum required in the direct impact model (see figure 8 in Barros et al. 2007). The system mass ratio was recently constrained by Roelofs et al. (2010) to <i>q</i> = 0.50 ± 0.13, allowing for a lighter primary, <i>M</i><sub style="font-size:7px">1</sub> ≃ 0.55 <i>M</i><sub style="font-size:7px">⊙</sub> if the orbital evolution were driven only by GW emission. However, the mechanism responsible for the X-ray emission might well affect the orbital evolution, and the allowed range of <i>q</i> does not give a stringent constraint on the primary mass. This latter estimate should thus be taken with caution.</div>
<div class="foot" style="left:52px;">Article number, page 4 of 6</div>
</div>

<!-- ================= PAGE 5 ================= -->
<div class="pg" style="left:3392px">
<div class="hdr">Paolo Esposito et al.: <i>Swift</i> X-ray and ultraviolet observations of RX J0806.3+1527</div>
<div class="t L" style="top:81px;height:880px;"><p class="ni">sion have nearly the same offset in the RX J0806.3+1527 and RX J1914.4+2456, despite the significantly different orbital periods, orbital separations, and WD masses, requires some degree of fine-tuning. This is well seen from Figure 8 in Barros et al. (2007), where the allowed range in parameter space for both systems is shown to be very narrow.</p><p>Another challenge for accretion-based models comes from the X-ray luminosity, which we estimated at ∼5 × 10<sup style="font-size:8px">32</sup>(<i>R</i><sub style="font-size:8px">8</sub>/6.5)<sup style="font-size:8px">2</sup> erg s<sup style="font-size:8px">−1</sup> (see below). The X-ray luminosity could be shifted upwards to <i>L</i><sub style="font-size:8px">X,bol</sub> ≃ 10<sup style="font-size:8px">33</sup> erg s<sup style="font-size:8px">−1</sup> (hence, <i>D</i> ≃ (1.3 ± 0.3) kpc) if we assume the lightest possible primary (0.55 <i>M</i><sub style="font-size:8px">⊙</sub>, cf. Note 3). We conclude that the source luminosity can hardly exceed 10<sup style="font-size:8px">33</sup> erg s<sup style="font-size:8px">−1</sup>. The models with mass transfer that are able to explain the orbital shrinkage of RX J0806.3+1527 (and of RX J1914.4+2456) are developed by D’Antona et al. (2006), Deloye &amp; Taam (2006) and, more recently, Kaplan et al. (2012). They all require for RX J0806.3+1527 a luminosity greater than 10<sup style="font-size:8px">33</sup> erg s<sup style="font-size:8px">−1</sup> and more likely of the order of 10<sup style="font-size:8px">34</sup> erg s<sup style="font-size:8px">−1</sup>. For example, orbital shrinkage in the model by Deloye &amp; Taam (2006) is explained if both systems are in a transient phase during which Roche-lobe overflow has ‘just’ started hence, the growing mass transfer rate has not yet reached the value required to balance GW emission. For this phase to be sufficiently long-lived, though, the model requires a relatively large accretion rate, which translates to X-ray luminosities above 10<sup style="font-size:8px">33</sup>–10<sup style="font-size:8px">34</sup> erg s<sup style="font-size:8px">−1</sup> for both systems (cf. Deloye &amp; Taam 2006; Deloye et al. 2007; see also Figs. 4 and 5 in Kaplan et al. 2012, and §3 in D’Antona et al. 2006).</p><p>In these accretion-based scenarios, some fine tuning of the stellar parameters would also be required for RX J1914.4+2456 to have a larger mass transfer, hence luminosity, given its significantly longer orbital period compared to RX J0806.3+1527. D’Antona et al. (2006) stressed that their model has difficulties in explaining the properties of RX J1914.4+2456 (end of their §3) and postponed further refinements to future investigations. Finally, it is surprising within accretion scenarios that no systems are detected with an orbital period between 5 and 10 minutes but with widening orbits. These would be the descendents of systems like RX J0806.3+1527. By having a larger luminosity and being in a longer-lived phase of mass tansfer than RX J0806.3+1527, they should be overabundant. (Considering the small sample of objects like RX J0806.3+1527, it is, however, difficult to estimate how many such systems should exist and be observable in the Galaxy.)</p><p>A phase offset would also be expected in the UI model, which is contrary to what is often asserted, due to the bending of the flux tube caused by the massive flow of currents. Indeed, even on Jupiter, the Io footprint leads the position of the satellite by ∼13° (Goldreich &amp; Lynden-Bell 1969). A maximally bent flux tube (cf. Lai 2012) would reach the primary at approximately 90° ahead of the line joining the centers, which might explain the similar phase offset in both systems as determined by the saturation of the electric circuit.</p><p>Independent of this, a general efficiency limit of the UI model was recently discussed by Lai (2012). For double WD binaries, this translates into a maximum luminosity (Lai 2012):</p></div>
<div style="position:absolute;left:52px;top:978px;width:364px;height:30px;font-family:'Liberation Serif',serif;font-size:13px;line-height:28px;color:#111;white-space:nowrap;"><i>L</i><sub style="font-size:8px">max</sub> ≈ 10<sup style="font-size:8px">31</sup><i>ζ</i><sub style="font-size:8px">φ</sub><span style="font-size:20px">(</span>ΔΩ/Ω<span style="font-size:20px">)</span><i>μ</i><sup style="font-size:8px">2</sup><sub style="font-size:8px">32</sub><i>R</i><sup style="font-size:8px">2</sup><sub style="font-size:8px">9</sub><span style="font-size:20px">(</span><i>M</i><sub style="font-size:8px">tot</sub>/<i>M</i><sub style="font-size:8px">⊙</sub><span style="font-size:20px">)</span><sup style="font-size:8px">−5/3</sup> <span style="font-size:20px">(</span><i>P</i>/5 min<span style="font-size:20px">)</span><sup style="font-size:8px">−13/3</sup> erg s<sup style="font-size:8px">−1</sup>,&nbsp;&nbsp; (1)</div>
<div class="t L" style="top:1021px;height:64px;"><p class="ni">where <i>ζ</i><sub style="font-size:8px">φ</sub> depends on the degree of bending of the flux tube (<i>ζ</i><sub style="font-size:8px">φ</sub> = 1 for a maximally bended tube), ΔΩ is the difference between the orbital frequency (Ω) and the primary spin frequency, <i>μ</i> is the magnetic moment of the primary, <i>R</i> is the secondary</p></div>
<div class="t R" style="top:81px;height:237px;"><p class="ni">radius, <i>M</i><sub style="font-size:8px">tot</sub> the total mass of the system, and <i>Q<sub style="font-size:8px">X</sub></i> stands for a quantity <i>Q</i> in units of 10<sup style="font-size:8px"><i>X</i></sup>. This represents the major problem of the UI model in its current form, since the mechanism cannot provide the required power for the X-ray luminosity of both sources and the mismatch is significant (although smaller than in the conclusions of Lai 2012, where an extreme value was assumed for the X-ray luminosity of RX J1914.4+2456). However, the idealized picture of a DC circuit in the UI model likely needs substantial revision. For instance, if the space between the WDs were not filled with sufficient particles, charge carriers would be stripped from the WD surface and accelerated along field lines. In this case, a radically different physical description would be required (cf. Alfvén 1958, 1986) and the limit of eq. (1) might not apply. Modelling of this scenario is clearly beyond our scope here, but this is a promising direction into which the model should be extended.</p></div>
<div class="fn R" style="top:339px;height:64px;font-size:10.5px;line-height:12.6px;"><i>Acknowledgements.</i> This research is based on observations with the NASA/UKSA/ASI mission <i>Swift</i>. We also used ESO/VLT and the INAF/TNG data. SD acknowledges support from the SFB/Transregio 7, funded by the Deutsche Forschungsgemeinschaft (DFG). We thank the anonymous referee for constructive comments.</div>
<div class="h" style="left:433px;top:440px;font-size:16px;">References</div>
<div class="fn R" style="top:466px;height:618px;font-size:10.5px;line-height:12.6px;text-align:left;" id="refs"></div>
<div class="foot" style="left:433px;text-align:right;">Article number, page 5 of 6</div>
</div>

<script>
(function(){
var NS="http://www.w3.org/2000/svg";
function path(svg,d,w,c){var p=document.createElementNS(NS,"path");p.setAttribute("d",d);p.setAttribute("stroke",c||"#111");p.setAttribute("stroke-width",w||1);p.setAttribute("fill","none");svg.appendChild(p);}
var s3=document.getElementById("s3");
// Fig1 ticks
var d="";
for(var k=-11;k<=11;k++){var x=271+12.45*k;var L=(k%5==0)?7:4;d+="M"+x+",373v-"+L+"M"+x+",96v"+L;}
for(var c=0;c<=120;c+=10){var y=373-2.16*c;var L=(c%50==0)?7:4;d+="M128,"+y+"h"+L+"M415,"+y+"h-"+L;}
path(s3,d,1);
// Fig2 ticks
d="";
for(var i=0;i<=20;i++){var x=525+12.92*i;var L=(i%5==0)?7:4;
 [[147,350],[357,463],[468,575]].forEach(function(b){d+="M"+x+","+b[1]+"v-"+L+"M"+x+","+b[0]+"v"+L;});}
function yt(v0,v1,step,maj,f){for(var v=v0;v<=v1+1e-9;v+=step){var y=f(v);var isM=Math.abs(Math.round(v/maj)*maj-v)<1e-6;var L=isM?7:4;d+="M519,"+y+"h"+L+"M784,"+y+"h-"+L;}}
yt(0,4.9,0.5,2,function(v){return 348-40.5*v;});
yt(0.8,1.3,0.05,0.2,function(v){return 417-(v-1)*147.5;});
yt(0.8,1.45,0.05,0.2,function(v){return 543-(v-1)*150;});
path(s3,d,1);
// Fig3 grid
var g=document.getElementById("f3grid");
d="";
[115,159,203,246,287].forEach(function(y){d+="M104,"+y+"H412";});
var xs=[];[2e-5,3e-5,4e-5,5e-5,6e-5,7e-5,8e-5,9e-5,1e-4,2e-4].forEach(function(l){var x=130+(Math.log10(l)+4.699)*242;d+="M"+x+",111V298";xs.push(x);});
var p=document.createElementNS(NS,"path");p.setAttribute("d",d);g.appendChild(p);
var s4=document.getElementById("s4");d="";
xs.forEach(function(x){d+="M"+x+",298v-5";});
[115,159,203,246,287].forEach(function(y){d+="M104,"+y+"h6";});
path(s4,d,1,"#333");
// table
var rows=[["35180001","2005 Sep 10–12","13.9","14.1 / <i>uvw</i>1"],["35180002","2005 Sep 23","2.0","2.1 / <i>uvw</i>1"],["35180003","2005 Nov 30","2.0","–"],["35180004","2005 Nov 30","13.4","13.7 / <i>uvw</i>1"],["35705001","2006 Sep 11","1.4","1.0 / <i>b</i>, <i>v</i><sup style='font-size:7px'>*</sup>"],["35705002","2007 Mar 18","4.3","4.3 / <i>b</i>, <i>v</i><sup style='font-size:7px'>*</sup>"],["37762001","2008 May 31","1.2","1.2 / <i>uvw</i>1<sup style='font-size:7px'>*</sup>"],["35180005","2008 Jun 02","1.7","1.7 / <i>uvw</i>1"],["37762002","2008 Sep 16","0.3","0.3 / <i>uvw</i>1<sup style='font-size:7px'>*</sup>"],["37762003","2010 Mar 30","[7.9]","7.9 / <i>uvw</i>2"],["37762004","2010 Apr 02","9.5","9.5 / <i>uvw</i>2"],["37762005","2010 Apr 07","8.6","8.6 / <i>uvw</i>2"]];
var h="";rows.forEach(function(r,i){var t=i*15.6;h+="<span style='position:absolute;left:1px;top:"+t+"px'>"+r[0]+"</span><span style='position:absolute;left:73px;top:"+t+"px'>"+r[1]+"</span><span style='position:absolute;left:172px;width:72px;text-align:center;top:"+t+"px'>"+r[2]+"</span><span style='position:absolute;left:250px;width:96px;text-align:center;top:"+t+"px'>"+r[3]+"</span>";});
document.getElementById("tbl").innerHTML=h;
// references
var refs=["Alfvén, H. 1958, Tellus, 10, 104","Alfvén, H. 1986, IEEE Transactions on Plasma Science, 14, 779","Barros, S. C. C., Marsh, T. R., Dhillon, V. S., et al. 2007, MNRAS, 374, 1334","Breeveld, A. A., Curran, P. A., Hoversten, E. A., et al. 2010, MNRAS, 406, 1687","Breeveld, A. A., Landsman, W., Holland, S. T., et al. 2011, in AIP Conference Proceedings, Vol. 1358, Gamma Ray Bursts 2010., ed. J. E. McEnery, J. L. Racusin, &amp; N. Gehrels (AIP, Melville), 373–376","Burrows, D. N., Hill, J. E., Nousek, J. A., et al. 2005, Space Science Reviews, 120, 165","Cropper, M., Harrop-Allin, M. K., Mason, K. O., et al. 1998, MNRAS, 293, L57","Cropper, M., Ramsay, G., Wu, K., &amp; Hakala, P. 2004, in Astronomical Society of the Pacific Conference Series, Vol. 315, IAU Colloq. 190: Magnetic Cataclysmic Variables, ed. S. Vrielmann &amp; M. Cropper (ASP, San Francisco), 324","Dall’Osso, S., Israel, G. L., &amp; Stella, L. 2006, A&amp;A, 447, 785","Dall’Osso, S., Israel, G. L., &amp; Stella, L. 2007, A&amp;A, 464, 417","D’Antona, F., Ventura, P., Burderi, L., &amp; Teodorescu, A. 2006, ApJ, 653, 1429","Deloye, C. J. &amp; Taam, R. E. 2006, ApJ, 649, L99","Deloye, C. J., Taam, R. E., Winisdoerffer, C., &amp; Chabrier, G. 2007, MNRAS, 381, 525","Fitzpatrick, E. L. &amp; Massa, D. 2007, ApJ, 663, 320","Goldreich, P. &amp; Lynden-Bell, D. 1969, ApJ, 156, 59","Hakala, P., Ramsay, G., &amp; Byckling, K. 2004, MNRAS, 353, 453","Israel, G. L., Covino, S., Dall’Osso, S., et al. 2004, Mem. S. A. It. Suppl., 5, 148","Israel, G. L., Covino, S., Stella, L., et al. 2003, ApJ, 598, 492","Israel, G. L. &amp; Dall’Osso, S. 2009, in Astrophysics and Space Science Library., Vol. 359, Physics of Relativistic Objects in Compact Binaries: From Birth to Coalescence, ed. M. Colpi, P. Casella, V. Gorini, U. Moschella, &amp; A. Possenti (Springer, Dordrecht), 281","Israel, G. L., dall’Osso, S., Mangano, V., et al. 2005, in AIP Conference Series, Vol. 797, Interacting Binaries: Accretion, Evolution, and Outcomes, ed. L. Burderi, L. A. Antonelli, F. D’Antona, T. di Salvo, G. L. Israel, L. Piersanti, A. Tornambè, &amp; O. Straniero (AIP, Melville), 307–312","Israel, G. L., Hummel, W., Covino, S., et al. 2002, A&amp;A, 386, L13","Israel, G. L., Panzera, M. R., Campana, S., et al. 1999, A&amp;A, 349, L1","Kaplan, D. L., Bildsten, L., &amp; Steinfadt, J. D. R. 2012, ApJ, 758, 64","Lai, D. 2012, ApJ, 757, L3","Marsh, T. R. &amp; Steeghs, D. 2002, MNRAS, 331, L7","Mason, E., Israel, G. L., Dall’Osso, S., et al. 2010, eprint: astro-ph/1003.1986","Nauenberg, M. 1972, ApJ, 175, 417","Nelemans, G. 2013, in Astronomical Society of the Pacific Conference Series, Vol. 467, The 9th LISA Symposium, ed. G. Auger, P. Binétruy, &amp; E. Plagnol (ASP, San Francisco), 27","Nelemans, G., Portegies Zwart, S. F., Verbunt, F., &amp; Yungelson, L. R. 2001, A&amp;A, 368, 939","Poole, T. S., Breeveld, A. A., Page, M. J., et al. 2008, MNRAS, 383, 627","Predehl, P. &amp; Schmitt, J. H. M. M. 1995, A&amp;A, 293, 889","Ramsay, G., Hakala, P., &amp; Cropper, M. 2002, MNRAS, 332, L7","Roelofs, G. H. A., Rau, A., Marsh, T. R., et al. 2010, ApJ, 711, L138"];
document.getElementById("refs").innerHTML=refs.map(function(r){return "<div style='padding-left:1.2em;text-indent:-1.2em;text-align:justify'>"+r+"</div>";}).join("");
})();
</script>
</body></html>
